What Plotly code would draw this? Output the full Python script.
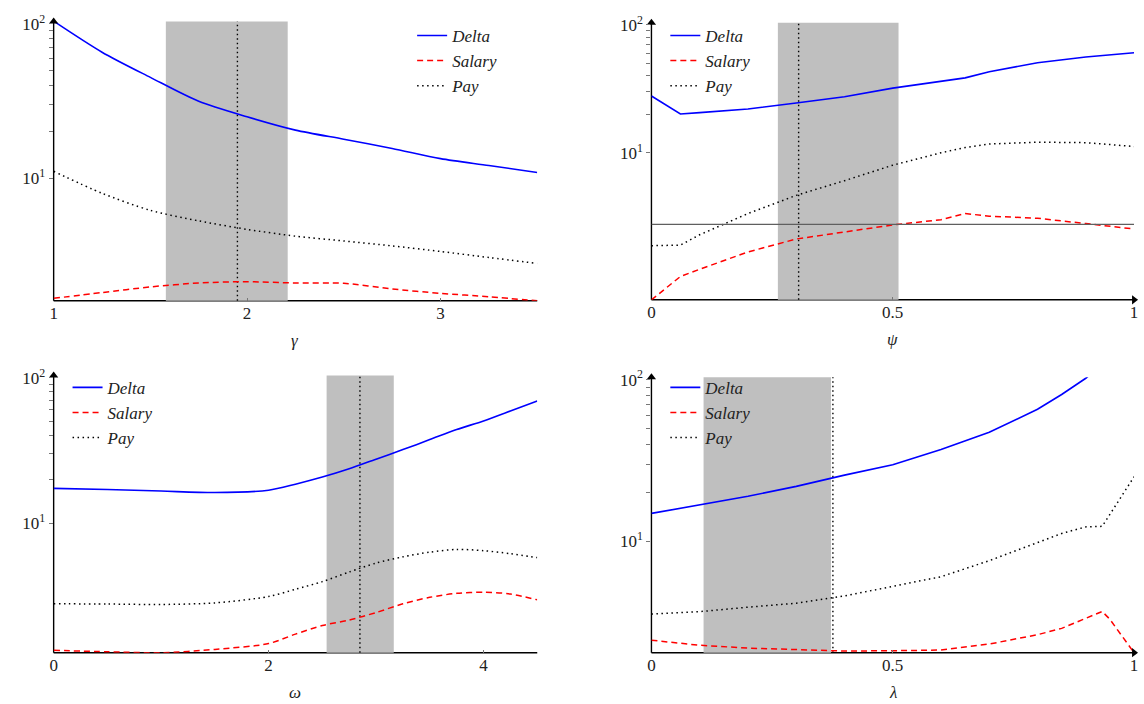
import math
import plotly.graph_objects as go

# ---------------- data ----------------
# Panel 1: gamma
gamma_x      = [1.0, 1.25, 1.5, 1.75, 2.0, 2.25, 2.5, 2.75, 3.0, 3.25, 3.5]
gamma_delta  = [104, 65.5, 45.0, 31.5, 25.0, 20.5, 17.9, 15.6, 13.4, 12.1, 10.9]
gamma_salary = [1.67, 1.82, 1.98, 2.10, 2.14, 2.10, 2.09, 1.92, 1.80, 1.71, 1.61]
gamma_pay    = [11.1, 8.0, 6.2, 5.3, 4.67, 4.22, 3.93, 3.65, 3.36, 3.07, 2.81]

# Panel 2: psi
psi_x      = [0.0, 0.06, 0.1, 0.2, 0.3, 0.4, 0.5, 0.6, 0.65, 0.7, 0.8, 0.9, 1.0]
psi_delta  = [27.8, 20.1, 20.6, 22.0, 24.5, 27.4, 32.0, 36.2, 38.5, 43.0, 50.5, 56.0, 60.5]
psi_salary = [0.71, 1.08, 1.23, 1.68, 2.12, 2.40, 2.73, 3.00, 3.35, 3.20, 3.08, 2.80, 2.54]
psi_pay    = [1.88, 1.90, 2.29, 3.35, 4.65, 6.05, 8.0, 10.0, 11.0, 11.7, 12.1, 12.0, 11.2]
psi_ref_level = 2.76

# Panel 3: omega
omega_x      = [0.0, 0.5, 1.0, 1.5, 2.0, 2.25, 2.5, 2.75, 3.0, 3.25, 3.5, 3.75, 4.0, 4.25, 4.5]
omega_delta  = [17.3, 17.0, 16.6, 16.2, 16.8, 18.5, 20.7, 23.6, 27.5, 32.0, 37.5, 44.0, 50.4, 59.0, 69.0]
omega_salary = [1.33, 1.30, 1.28, 1.35, 1.48, 1.72, 1.97, 2.15, 2.42, 2.78, 3.08, 3.28, 3.34, 3.25, 2.96]
omega_pay    = [2.78, 2.77, 2.75, 2.82, 3.12, 3.50, 3.95, 4.60, 5.30, 5.85, 6.30, 6.58, 6.45, 6.15, 5.78]

# Panel 4: lambda
lambda_x      = [0.0, 0.1, 0.2, 0.3, 0.4, 0.5, 0.6, 0.7, 0.8, 0.85, 0.9, 0.934, 0.95, 1.0]
lambda_delta  = [14.9, 16.8, 19.0, 21.9, 25.7, 29.8, 37.0, 47.3, 65.6, 81.0, 102, 125, None, None]
lambda_salary = [2.45, 2.28, 2.19, 2.14, 2.10, 2.11, 2.13, 2.32, 2.65, 2.90, 3.35, 3.69, 3.30, 2.05]
lambda_pay    = [3.56, 3.68, 3.92, 4.15, 4.60, 5.25, 6.05, 7.6, 9.86, 11.2, 12.3, 12.4, 14.7, 25.1]

# Shaded intervals and dotted markers
gamma_band,  gamma_mark  = (1.58, 2.21), 1.95
psi_band,    psi_mark    = (0.262, 0.512), 0.305
omega_band,  omega_mark  = (2.54, 3.165), 2.85
lambda_band, lambda_mark = (0.108, 0.372), 0.376

series_names = ["Delta", "Salary", "Pay"]

# ---------------- layout / styling ----------------
W, H = 1144, 704
FONT = "Liberation Serif"
YTOP_LOG = 2.015

panels = [
    dict(x=gamma_x, ys=[gamma_delta, gamma_salary, gamma_pay], xr=[1, 3.5],
         xt=[1, 2, 3], xtt=["1", "2", "3"], title="γ", band=gamma_band, mark=gamma_mark,
         px=(50, 537), p100=14, pb=295, shape="spline",
         leg=(411, 8)),
    dict(x=psi_x, ys=[psi_delta, psi_salary, psi_pay], xr=[0, 1],
         xt=[0, 0.5, 1], xtt=["0", "0.5", "1"], title="ψ", band=psi_band, mark=psi_mark,
         px=(652, 1138), p100=15, pb=294, shape="linear",
         leg=(666, 8)),
    dict(x=omega_x, ys=[omega_delta, omega_salary, omega_pay], xr=[0, 4.5],
         xt=[0, 2, 4], xtt=["0", "2", "4"], title="ω", band=omega_band, mark=omega_mark,
         px=(50, 537), p100=373, pb=652, shape="spline",
         leg=(64, 365)),
    dict(x=lambda_x, ys=[lambda_delta, lambda_salary, lambda_pay], xr=[0, 1],
         xt=[0, 0.5, 1], xtt=["0", "0.5", "1"], title="λ", band=lambda_band, mark=lambda_mark,
         px=(652, 1138), p100=375, pb=652, shape="linear",
         leg=(666, 365)),
]

styles = [
    dict(color="#0000ff", width=1.6, dash="solid"),
    dict(color="#ff0000", width=1.5, dash="6px,4px"),
    dict(color="#000000", width=1.5, dash="1.5px,3.5px"),
]

ymajor = [10, 100]
ymajor_text = ["10<sup>1</sup>", "10<sup>2</sup>"]
yminor = [20, 30, 40, 50, 60, 70, 80, 90]

fig = go.Figure()
shapes = []
annotations = []
layout = {}

for i, p in enumerate(panels, start=1):
    sx = "" if i == 1 else str(i)
    xa, ya = "x" + sx, "y" + sx
    leg = "legend" + ("" if i == 1 else str(i))
    allvals = [v for s in p["ys"] for v in s if v is not None]
    ymin = min(allvals)
    lo = math.log10(ymin)
    decade = (p["pb"] - p["p100"]) / (2 - lo)
    ptop = p["p100"] - (YTOP_LOG - 2) * decade

    for name, ys, st in zip(series_names, p["ys"], styles):
        fig.add_trace(go.Scatter(
            x=p["x"], y=ys, mode="lines", name="<i>" + name + "</i>",
            line=dict(color=st["color"], width=st["width"], dash=st["dash"],
                      shape=p["shape"], smoothing=0.8 if p["shape"] == "spline" else None),
            xaxis=xa, yaxis=ya, legend=leg, hoverinfo="skip",
            connectgaps=False, cliponaxis=True))
    if i == 2:
        fig.add_trace(go.Scatter(
            x=[p["xr"][0], p["xr"][1]], y=[psi_ref_level, psi_ref_level], mode="lines",
            line=dict(color="#5f5f5f", width=1.4), showlegend=False, hoverinfo="skip",
            xaxis=xa, yaxis=ya))
    # axis arrow heads
    fig.add_trace(go.Scatter(
        x=[p["xr"][1]], y=[ymin], mode="markers", showlegend=False, hoverinfo="skip",
        marker=dict(symbol="triangle-right", size=8, color="black"),
        cliponaxis=False, xaxis=xa, yaxis=ya))
    fig.add_trace(go.Scatter(
        x=[p["xr"][0]], y=[10 ** YTOP_LOG], mode="markers", showlegend=False, hoverinfo="skip",
        marker=dict(symbol="triangle-up", size=8, color="black"),
        cliponaxis=False, xaxis=xa, yaxis=ya))

    tickfont = dict(family=FONT, size=17, color="#222")
    layout["xaxis" + sx] = dict(
        domain=[p["px"][0] / W, p["px"][1] / W], range=p["xr"], anchor=ya,
        showgrid=False, zeroline=False, showline=False, fixedrange=True,
        tickmode="array", tickvals=p["xt"], ticktext=p["xtt"],
        ticks="inside", ticklen=3, tickwidth=1, tickcolor="#777",
        tickfont=tickfont)
    layout["yaxis" + sx] = dict(
        domain=[1 - p["pb"] / H, 1 - ptop / H], type="log", range=[lo, YTOP_LOG],
        anchor=xa, showgrid=False, zeroline=False, showline=False, fixedrange=True,
        tickmode="array", tickvals=ymajor, ticktext=ymajor_text,
        ticks="outside", ticklen=4, tickwidth=1, tickcolor="#777",
        minor=dict(tickvals=yminor, ticks="outside", ticklen=4, tickwidth=1,
                   tickcolor="#777", showgrid=False),
        tickfont=tickfont)
    layout[leg] = dict(
        x=p["leg"][0] / W, y=1 - p["leg"][1] / H, xanchor="left", yanchor="top",
        bgcolor="rgba(0,0,0,0)", borderwidth=0, tracegroupgap=0,
        font=dict(family=FONT, size=17, color="#222"), itemwidth=30)

    shapes.append(dict(type="line", xref=xa + " domain", yref=ya + " domain",
                       x0=0, x1=1, y0=0, y1=0, line=dict(color="black", width=1.4), layer="below"))
    shapes.append(dict(type="line", xref=xa + " domain", yref=ya + " domain",
                       x0=0, x1=0, y0=0, y1=1, line=dict(color="black", width=1.4), layer="below"))
    shapes.append(dict(type="rect", xref=xa, yref=ya + " domain",
                       x0=p["band"][0], x1=p["band"][1], y0=0, y1=1,
                       fillcolor="#bfbfbf", line=dict(width=0), layer="below"))
    shapes.append(dict(type="line", xref=xa, yref=ya + " domain",
                       x0=p["mark"], x1=p["mark"], y0=0, y1=1,
                       line=dict(color="black", width=1.4, dash="1.5px,3px"), layer="below"))
    annotations.append(dict(xref=xa + " domain", yref=ya + " domain", x=0.5, y=0,
                            yshift=-40, text="<i>" + p["title"] + "</i>", showarrow=False,
                            yanchor="middle", font=dict(family=FONT, size=17, color="#222")))

fig.update_layout(
    width=W, height=H, autosize=False,
    margin=dict(l=0, r=0, t=0, b=0),
    paper_bgcolor="white", plot_bgcolor="white",
    shapes=shapes, annotations=annotations, **layout)

fig.write_html("out.html", config={"displayModeBar": False, "staticPlot": True},
               post_script="document.body.style.margin='0px';document.body.style.overflow='hidden';")
